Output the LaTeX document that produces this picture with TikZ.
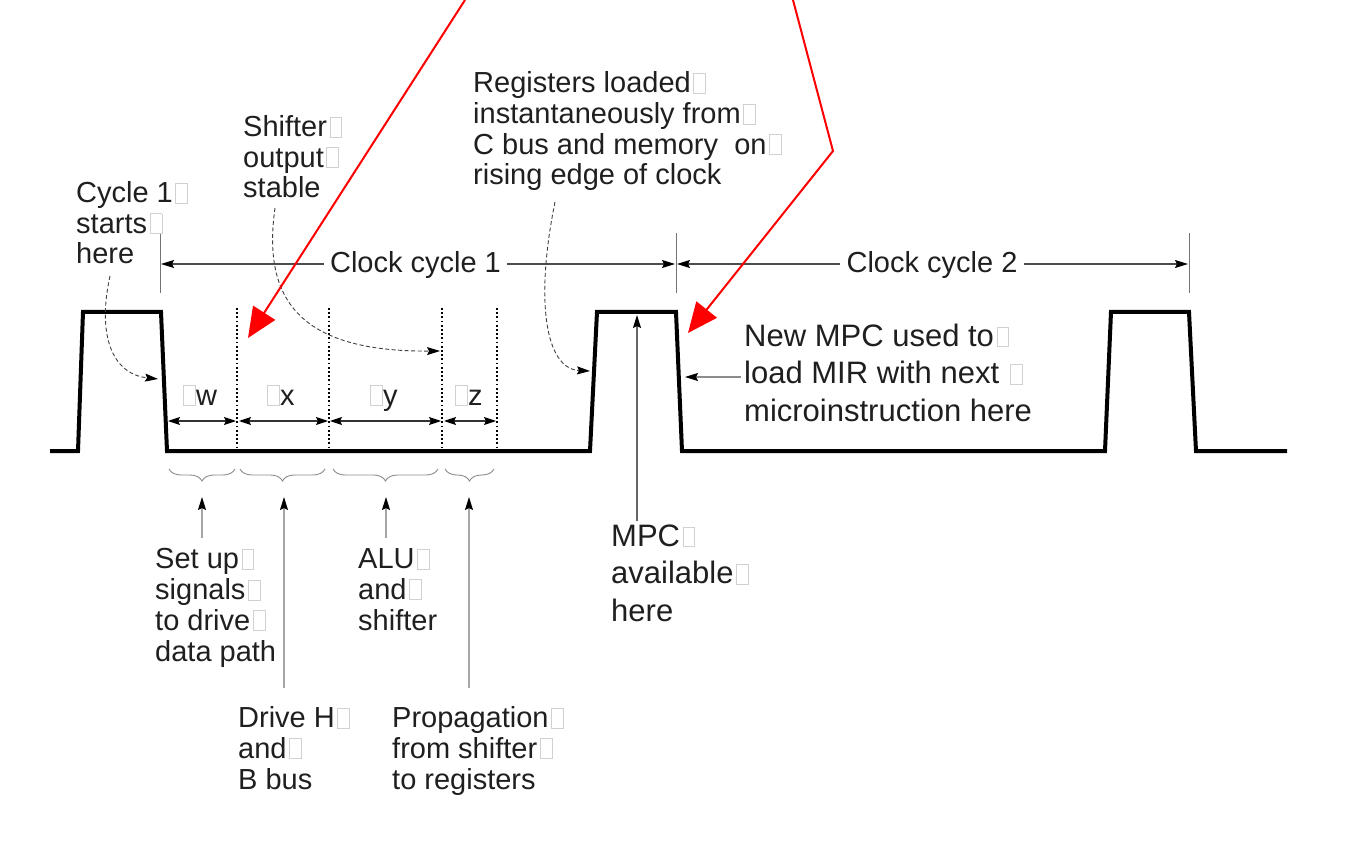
\documentclass[tikz,border=0pt]{standalone}
\usepackage{fontspec}
\setmainfont{Liberation Sans}
\usetikzlibrary{arrows.meta,decorations.pathreplacing}
\newcommand{\gbb}{{\color{black!18}\setlength{\fboxsep}{0pt}\setlength{\fboxrule}{0.9pt}\fbox{\rule{0pt}{19pt}\rule{11pt}{0pt}}}}
\newcommand{\gb}{\kern2.5pt\gbb}
\begin{document}
\begin{tikzpicture}[x=1pt,y=-1pt,
  wave/.style={line width=4pt,line join=miter,black},
  lbl/.style={anchor=base west,inner sep=0pt,align=left,text=black!88,font=\fontsize{29}{30.7}\selectfont},
  big/.style={lbl,font=\fontsize{31}{37.3}\selectfont},
  tipk/.style={-{Stealth[length=13pt,width=8pt,inset=2pt,color=black]}},
  twotip/.style={{Stealth[length=12pt,width=8pt,inset=2pt,color=black]}-{Stealth[length=12pt,width=8pt,inset=2pt,color=black]}},
  dim/.style={draw=black!70,line width=1.1pt},
  tick/.style={draw=black!55,line width=1pt},
  leader/.style={draw=black!35,line width=1.2pt,tipk},
  dotline/.style={draw=black,line width=1.8pt,dash pattern=on 1.8pt off 2.4pt},
  curvy/.style={draw=black!75,line width=0.9pt,dash pattern=on 4pt off 2.5pt,tipk},
  brc/.style={draw=black!45,line width=0.9pt,decorate,decoration={brace,mirror,amplitude=12pt}},
  redarrow/.style={draw=red,line width=2pt,-{Triangle[length=30pt,width=26pt]}},
  cyc/.style={anchor=base,inner xsep=6pt,inner ysep=0pt,text=black!88,font=\fontsize{29}{30.7}\selectfont}
]
\useasboundingbox (0,0) rectangle (1361,845);

% ---------- waveform ----------
\coordinate (ws) at (50,451);
\coordinate (p1a) at (78,451);  \coordinate (p1b) at (83,312);
\coordinate (p1c) at (161,312); \coordinate (p1d) at (167,451);
\coordinate (p2a) at (590,451); \coordinate (p2b) at (597,312);
\coordinate (p2c) at (676,312); \coordinate (p2d) at (682,451);
\coordinate (p3a) at (1105,451);\coordinate (p3b) at (1111,312);
\coordinate (p3c) at (1189,312);\coordinate (p3d) at (1196,451);
\coordinate (we) at (1287,451);
\draw[wave] (ws) -- (p1a) -- (p1b) -- (p1c) -- (p1d) -- (p2a) -- (p2b) -- (p2c) -- (p2d)
  -- (p3a) -- (p3b) -- (p3c) -- (p3d) -- (we);

% ---------- clock cycle dimension ----------
\coordinate (t1a) at (160,233); \coordinate (t1b) at (160,293);
\coordinate (t2a) at (676,233); \coordinate (t2b) at (676,293);
\coordinate (t3a) at (1189,233);\coordinate (t3b) at (1189,293);
\draw[tick] (t1a) -- (t1b);
\draw[tick] (t2a) -- (t2b);
\draw[tick] (t3a) -- (t3b);
\coordinate (c1l) at (161,264); \coordinate (c1r) at (675,264);
\coordinate (c2l) at (677,264); \coordinate (c2r) at (1188,264);
\node[cyc] (cc1) at (415.5,273) {Clock cycle 1};
\node[cyc] (cc2) at (932,273) {Clock cycle 2};
\draw[dim,tipk] (cc1.west |- c1l) -- (c1l);
\draw[dim,tipk] (cc1.east |- c1r) -- (c1r);
\draw[dim,tipk] (cc2.west |- c2l) -- (c2l);
\draw[dim,tipk] (cc2.east |- c2r) -- (c2r);

% ---------- dotted lines ----------
\coordinate (d1t) at (237,308); \coordinate (d1b) at (237,451);
\coordinate (d2t) at (329,308); \coordinate (d2b) at (329,451);
\coordinate (d3t) at (442,308); \coordinate (d3b) at (442,451);
\coordinate (d4t) at (497,308); \coordinate (d4b) at (497,451);
\draw[dotline] (d1t) -- (d1b);
\draw[dotline] (d2t) -- (d2b);
\draw[dotline] (d3t) -- (d3b);
\draw[dotline] (d4t) -- (d4b);

% ---------- delta intervals ----------
\coordinate (a0) at (168,421); \coordinate (a1l) at (236,421);
\coordinate (a1r) at (239,421); \coordinate (a2l) at (328,421);
\coordinate (a2r) at (330,421); \coordinate (a3l) at (441,421);
\coordinate (a3r) at (444,421); \coordinate (a4) at (496,421);
\draw[dim,draw=black!80,twotip] (a0) -- (a1l);
\draw[dim,draw=black!80,twotip] (a1r) -- (a2l);
\draw[dim,draw=black!80,twotip] (a2r) -- (a3l);
\draw[dim,draw=black!80,twotip] (a3r) -- (a4);
\node[lbl] (dw) at (183,405) {\gbb w};
\node[lbl] (dx) at (267,405) {\gbb x};
\node[lbl] (dy) at (370,405) {\gbb y};
\node[lbl] (dz) at (455,405) {\gbb z};

% ---------- braces ----------
\draw[brc] (169,469) -- (235,469);
\draw[brc] (240,469) -- (325,469);
\draw[brc] (333,469) -- (438,469);
\draw[brc] (445,469) -- (494,469);

% ---------- lower labels (anchored at last line baseline) ----------
\node[lbl] (setup) at (155,661) {Set up\gb\\signals\gb\\to drive\gb\\data path};
\node[lbl] (alu) at (358,630) {ALU\gb\\and\gb\\shifter};
\node[lbl] (drive) at (238,789) {Drive H\gb\\and\gb\\B bus};
\node[lbl] (prop) at (392,789) {Propagation\gb\\from shifter\gb\\to registers};
\coordinate (b1) at (202,497); \coordinate (b1s) at (202,538);
\coordinate (b2) at (284,497); \coordinate (b2s) at (284,688);
\coordinate (b3) at (386,497); \coordinate (b3s) at (386,538);
\coordinate (b4) at (469,497); \coordinate (b4s) at (469,688);
\draw[leader] (b1s) -- (b1);
\draw[leader] (b2s) -- (b2);
\draw[leader] (b3s) -- (b3);
\draw[leader] (b4s) -- (b4);

% ---------- MPC available ----------
\node[big] (mpc) at (611,621) {MPC\gb\\available\gb\\here};
\coordinate (m1) at (637,521); \coordinate (m2) at (637,315);
\draw[leader,draw=black!60] (m1) -- (m2);

% ---------- New MPC ----------
\node[big] (newmpc) at (744,421) {New MPC used to\gb\\load MIR with next \gb\\microinstruction here};
\coordinate (n1) at (741,377); \coordinate (n2) at (685,377);
\draw[leader,draw=black!45] (n1) -- (n2);

% ---------- upper labels ----------
\node[lbl] (cyc1) at (76,264) {Cycle 1\gb\\starts\gb\\here};
\node[lbl] (shift) at (243,198) {Shifter\gb\\output\gb\\stable};
\node[lbl] (regs) at (473,185) {Registers loaded\gb\\instantaneously from\gb\\C bus and memory\ \ on\gb\\rising edge of clock};

\coordinate (k1s) at (110,276); \coordinate (k1e) at (158,379);
\draw[curvy] (k1s) .. controls (97,335) and (112,374) .. (k1e);
\coordinate (k2s) at (275,208); \coordinate (k2e) at (440,351);
\draw[curvy] (k2s) .. controls (262,300) and (300,352) .. (k2e);
\coordinate (k3s) at (555,202); \coordinate (k3e) at (590,371);
\draw[curvy] (k3s) .. controls (535,300) and (545,369) .. (k3e);

% ---------- red arrows ----------
\coordinate (r1s) at (465,0); \coordinate (r1e) at (248,338);
\draw[redarrow] (r1s) -- (r1e);
\coordinate (r2s) at (793,0); \coordinate (r2m) at (833,151); \coordinate (r2e) at (688,333);
\draw[redarrow] (r2s) -- (r2m) -- (r2e);
\end{tikzpicture}
\end{document}
